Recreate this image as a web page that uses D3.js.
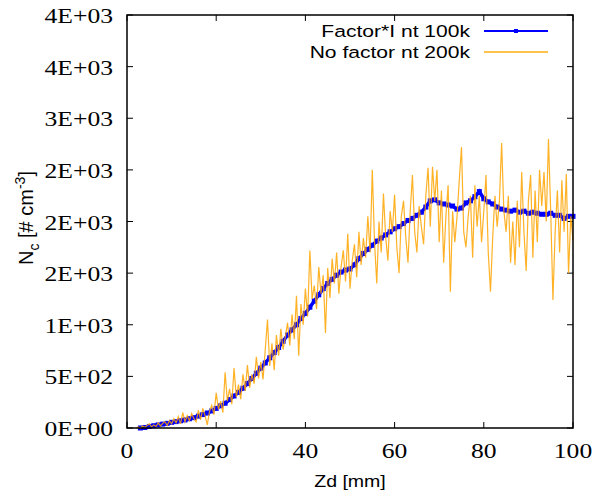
<!DOCTYPE html>
<html>
<head>
<meta charset="utf-8">
<script src="https://cdn.jsdelivr.net/npm/d3@7"></script>
<style>
body { margin:0; background:#fff; }
svg { display:block; }
</style>
</head>
<body>
<svg id="chart" width="600" height="500"></svg>
<script>
// series names
var seriesNames = ["Factor*I nt 100k", "No factor nt 200k"];

// Factor*I nt 100k : Zd 3..100 step 1
var blueStart = 3, blueStep = 1;
var blueVals = [0,5,15,22,30,38,45,55,62,70,78,90,100,115,130,145,165,190,215,240,
    275,310,345,385,430,480,530,580,630,680,730,780,840,900,950,1000,1060,1110,1170,1230,
    1290,1350,1400,1440,1480,1510,1530,1540,1580,1640,1690,1730,1770,1810,1840,1870,1900,1930,1950,1980,
    2010,2030,2060,2090,2140,2200,2210,2180,2170,2160,2150,2120,2130,2180,2200,2240,2290,2220,2190,2170,
    2140,2120,2110,2100,2110,2090,2100,2080,2090,2080,2070,2070,2080,2060,2060,2030,2050,2050];

// No factor nt 200k : Zd 2..100 step 0.5
var orangeStart = 2, orangeStep = 0.5;
var orangeVals = [0,10,0,20,5,25,40,10,30,15,50,20,45,60,25,70,40,90,50,110,
    40,150,60,120,70,140,90,60,170,80,190,120,30,160,220,130,340,180,260,150,
    540,260,380,230,580,300,420,280,520,360,610,390,520,430,690,480,640,470,760,1050,
    600,820,560,900,700,960,760,880,1020,800,1100,860,1280,700,1200,1000,1350,1080,1720,1250,
    1380,1150,1560,1300,1480,920,1550,1260,1640,1400,1700,1300,1560,1720,1420,1880,1350,1620,1780,1460,
    1900,1580,1840,1650,2050,1700,2500,1800,1400,2000,1700,2270,1850,1620,2100,1900,2260,1750,1500,2050,
    2200,1850,1600,2100,2450,1900,1700,2150,1950,1780,2250,2520,1950,2530,2200,2500,1800,2300,1600,2050,
    2350,1320,2100,1800,2050,2400,2720,1900,1750,2050,2250,1650,2350,1950,2250,1800,2100,2450,1700,1320,
    1850,2250,1950,2200,2760,2100,1900,2250,1600,2000,1580,2200,1750,2480,1900,1520,2200,2450,1650,2300,
    1800,2500,2150,2480,2000,2800,2100,1240,1900,2300,1700,2400,1900,2460,1500,2050,1820];

var xTicks = [0,20,40,60,80,100];
var yTicks = [0,500,1000,1500,2000,2500,3000,3500,4000];
var yTickLabels = ["0E+00","5E+02","1E+03","2E+03","2E+03","2E+03","3E+03","4E+03","4E+03"];

var blueData = blueVals.map(function (v, i) { return {x: blueStart + i*blueStep, y: v}; });
var orangeData = orangeVals.map(function (v, i) { return {x: orangeStart + i*orangeStep, y: v}; });

var plotL = 127, plotR = 573, plotT = 15, plotB = 428;
var svg = d3.select("#chart");

var x = d3.scaleLinear().domain([0,100]).range([plotL,plotR]);
var y = d3.scaleLinear().domain([0,4000]).range([plotB,plotT]);

var serif = "'Liberation Serif','Times New Roman',serif";
var sans = "'Liberation Sans',Arial,Helvetica,sans-serif";
var stretch = 1.22;

// ticks (inward, mirrored)
var tickG = svg.append("g").attr("stroke","#000").attr("stroke-width",1);
yTicks.forEach(function (t) {
    tickG.append("line").attr("x1",plotL).attr("x2",plotL+6).attr("y1",y(t)).attr("y2",y(t));
    tickG.append("line").attr("x1",plotR).attr("x2",plotR-6).attr("y1",y(t)).attr("y2",y(t));
});
xTicks.forEach(function (t) {
    tickG.append("line").attr("x1",x(t)).attr("x2",x(t)).attr("y1",plotB).attr("y2",plotB-6);
    tickG.append("line").attr("x1",x(t)).attr("x2",x(t)).attr("y1",plotT).attr("y2",plotT+6);
});

// tick labels
yTicks.forEach(function (t, i) {
    svg.append("text")
        .attr("transform","translate(113," + (y(t)+8) + ") scale(" + stretch + ",1)")
        .attr("text-anchor","end")
        .style("font-family",serif).style("font-size","21px")
        .text(yTickLabels[i]);
});
xTicks.forEach(function (t) {
    svg.append("text")
        .attr("transform","translate(" + x(t) + ",458) scale(" + stretch + ",1)")
        .attr("text-anchor","middle")
        .style("font-family",serif).style("font-size","21px")
        .text(t);
});

// axis titles
svg.append("text")
    .attr("transform","translate(350,487) scale(1.15,1)")
    .attr("text-anchor","middle")
    .style("font-family",sans).style("font-size","17px")
    .text("Zd [mm]");

var yt = svg.append("text")
    .attr("transform","translate(33,218) rotate(-90)")
    .attr("text-anchor","middle")
    .style("font-family",sans).style("font-size","20px");
yt.append("tspan").text("N");
yt.append("tspan").attr("dy",6).style("font-size","14px").text("c");
yt.append("tspan").attr("dy",-6).text(" [# cm");
yt.append("tspan").attr("dy",-8).style("font-size","14px").text("-3");
yt.append("tspan").attr("dy",8).text("]");

// data
var line = d3.line().x(function (d) { return x(d.x); }).y(function (d) { return y(d.y); });

svg.append("path").datum(blueData)
    .attr("d",line).attr("fill","none")
    .attr("stroke","#0000ff").attr("stroke-width",3.5);
svg.append("g").selectAll("rect").data(blueData).enter().append("rect")
    .attr("x",function (d) { return x(d.x)-2.5; })
    .attr("y",function (d) { return y(d.y)-2.5; })
    .attr("width",5).attr("height",5)
    .attr("fill","#0000ff");

svg.append("path").datum(orangeData)
    .attr("d",line).attr("fill","none")
    .attr("stroke","#ffa500").attr("stroke-opacity",0.85).attr("stroke-width",1.2);

// border
svg.append("rect").attr("x",plotL).attr("y",plotT)
    .attr("width",plotR-plotL).attr("height",plotB-plotT)
    .attr("fill","none").attr("stroke","#000").attr("stroke-width",1.5);

// legend
var legY = [31, 52];
seriesNames.forEach(function (name, i) {
    svg.append("text")
        .attr("transform","translate(470," + (legY[i]+6) + ") scale(1.24,1)")
        .attr("text-anchor","end")
        .style("font-family",sans).style("font-size","17px")
        .text(name);
});
svg.append("line").attr("x1",484).attr("x2",548).attr("y1",legY[0]).attr("y2",legY[0])
    .attr("stroke","#0000ff").attr("stroke-width",2);
svg.append("rect").attr("x",514).attr("y",legY[0]-2).attr("width",4).attr("height",4).attr("fill","#0000ff");
svg.append("line").attr("x1",484).attr("x2",548).attr("y1",legY[1]).attr("y2",legY[1])
    .attr("stroke","#ffa500").attr("stroke-opacity",0.7).attr("stroke-width",2);
</script>
</body>
</html>
